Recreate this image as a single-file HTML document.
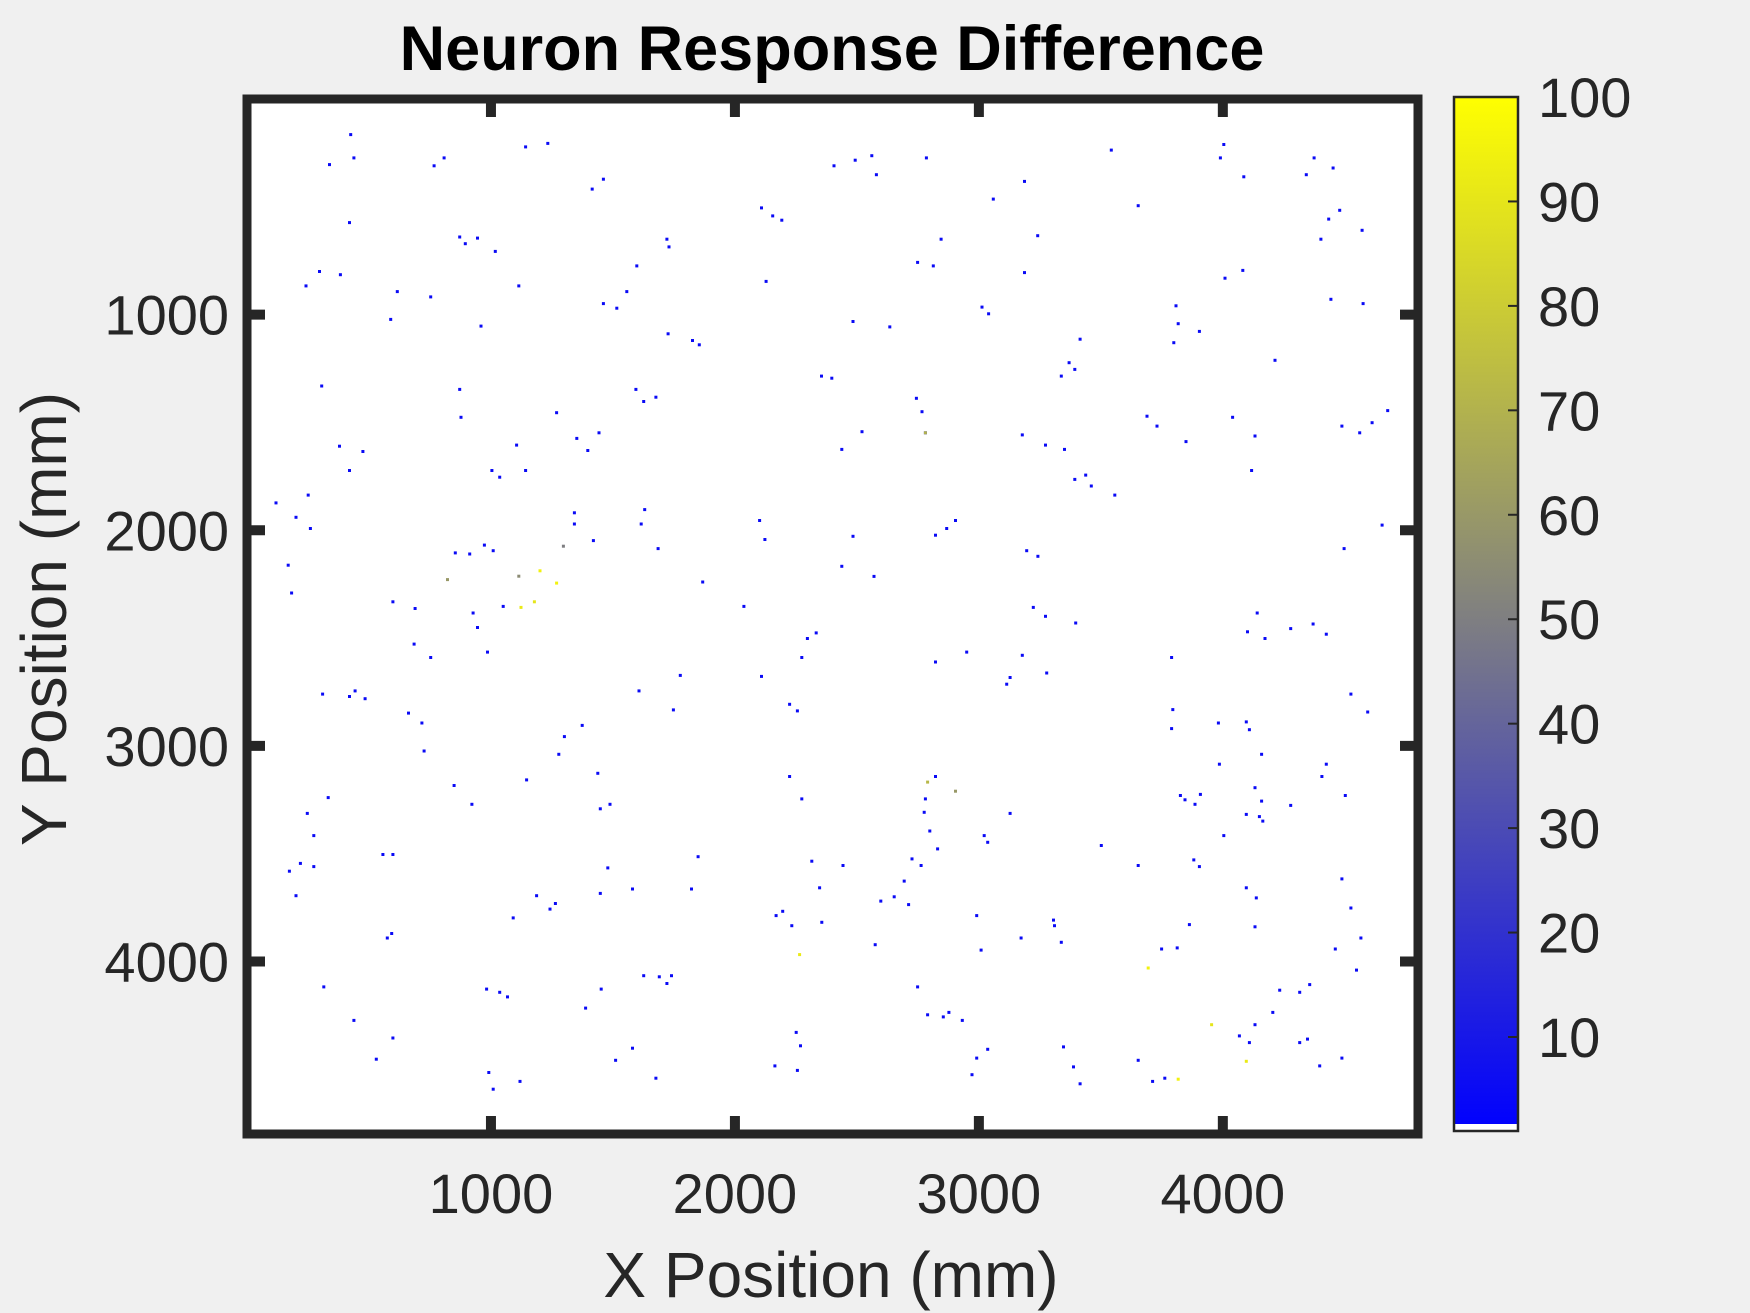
<!DOCTYPE html>
<html><head><meta charset="utf-8"><style>
html,body{margin:0;padding:0;background:#f0f0f0;}
svg{display:block;font-family:"Liberation Sans",Arial,sans-serif;}
</style></head><body>
<svg id="chart" width="1750" height="1313" viewBox="0 0 1750 1313">
<rect x="0" y="0" width="1750" height="1313" fill="#f0f0f0"/>
<g id="plot"></g>
</svg>
<script>
const xs = [425,338,438,420,1142,1233,808,767,1415,1461,2406,2493,2561,2580,2785,3059,3187,3543,4004,3990,4086,4342,4374,4452,3653,4479,4434,4402,4571,2109,2155,2192,1721,1730,1598,1557,1461,1516,1018,945,872,895,297,383,242,616,753,589,1114,959,1726,1826,1854,2128,2484,2635,2845,2749,2813,3187,3241,3013,3040,3808,3817,3904,3799,4009,4082,4443,4575,4214,3415,3370,3393,3338,2355,2397,2744,2767,2781,3178,3273,3351,3393,3438,3461,3557,3689,3730,3849,4040,4132,4118,4488,4561,4612,4676,2521,2438,1626,1676,1594,1269,1105,1142,1352,1397,1443,306,379,420,475,877,872,1004,1036,251,119,201,260,169,183,854,913,973,1009,1342,1342,1420,1630,1616,1685,1868,2101,2123,2037,2438,2484,2570,2822,2868,2904,3196,3242,3790,2822,2950,3178,3128,3114,3278,3223,3273,3397,4101,4141,4173,4278,4370,4424,4497,4653,4525,4594,3795,3790,3982,4096,4109,4159,3986,4424,4406,4502,3826,3845,3908,3886,4132,4159,4150,4096,4164,4278,4004,3881,3904,4096,4137,4132,3863,3813,3749,3653,4488,4525,4566,4461,4548,4356,4315,4233,4205,4132,4068,4109,4315,4347,4397,4488,3762,3712,3653,3415,3388,3347,3036,2991,2972,2932,2877,2854,2790,2749,3009,2991,3173,3306,3338,3310,3502,3022,3036,3128,2822,2781,2776,2799,2831,2726,2763,2694,2653,2598,2712,2575,2356,2315,2443,2347,2224,2274,2169,2196,2233,2251,2269,2164,2256,1776,1748,1607,2224,2256,2109,2297,2333,2274,1374,1301,1278,1438,1488,1448,1146,1849,1822,1479,1580,1448,1187,1242,1264,1091,1452,1388,1580,1511,1676,1626,1690,1721,1740,1119,1009,991,1068,1036,982,598,530,438,315,575,593,557,598,174,219,274,201,274,247,333,849,922,726,662,717,310,420,443,484,689,598,685,753,927,945,986,1050];
const ys = [165,304,273,573,222,206,273,310,418,372,310,284,263,351,273,464,382,237,211,273,361,351,273,320,495,516,557,650,609,505,542,562,650,686,774,893,949,970,707,645,640,671,800,815,867,893,918,1022,867,1053,1089,1120,1140,846,1032,1057,650,758,774,805,634,965,996,959,1042,1078,1130,831,795,929,949,1212,1114,1223,1254,1285,1285,1295,1388,1450,1548,1558,1605,1625,1764,1744,1795,1837,1471,1517,1589,1476,1563,1723,1517,1548,1501,1445,1543,1625,1403,1383,1347,1455,1605,1723,1574,1630,1548,1331,1610,1723,1635,1476,1347,1723,1754,1837,1873,1940,1992,2162,2291,2105,2110,2069,2095,1971,1919,2048,1904,1971,2085,2240,1955,2043,2353,2167,2028,2214,2023,1992,1955,2095,2121,2590,2611,2565,2580,2683,2714,2662,2358,2399,2430,2471,2384,2502,2456,2435,2482,2085,1976,2760,2843,2832,2920,2894,2889,2925,3039,3085,3085,3142,3230,3230,3250,3225,3271,3194,3256,3328,3318,3349,3276,3416,3529,3560,3658,3705,3839,3829,3937,3942,3555,3617,3752,3891,3942,4040,4107,4143,4133,4236,4293,4345,4376,4376,4360,4484,4448,4541,4556,4458,4567,4489,4396,4407,4448,4525,4273,4236,4257,4247,4118,3947,3787,3891,3808,3911,3834,3462,3416,3447,3313,3142,3246,3308,3395,3478,3524,3555,3627,3700,3720,3736,3922,3818,3535,3555,3658,3142,3246,3787,3767,3834,4329,4391,4484,4505,2673,2833,2745,2807,2838,2678,2502,2476,2590,2905,2957,3039,3127,3271,3292,3158,3514,3664,3566,3664,3684,3695,3757,3731,3798,4128,4216,4402,4458,4541,4066,4071,4102,4066,4556,4592,4515,4164,4143,4128,4355,4453,4273,4118,3891,3870,3504,3504,3581,3545,3560,3695,3416,3313,3240,3184,3271,3024,2848,2894,2760,2771,2745,2781,2363,2332,2528,2590,2384,2451,2565,2353];
const hotX = [3694,4096,3954,3817,2265,2790,2904,1123,1178,1201,1269,1114,1297,822,2781];
const hotY = [4030,4463,4293,4546,3968,3168,3210,2358,2332,2188,2245,2213,2074,2229,1548];
const hotV = [95,92,90,95,92,72,60,92,90,95,95,55,50,60,70];
const xTicks = [1000,2000,3000,4000];
const yTicks = [1000,2000,3000,4000];
const cbTicks = [10,20,30,40,50,60,70,80,90,100];

const NS='http://www.w3.org/2000/svg';
const svg=document.getElementById('chart');
const plot=document.getElementById('plot');
const X0=247,X1=1418,Y0=99,Y1=1134,XMAX=4800,YMAX=4800;
const sx=v=>X0+(v/XMAX)*(X1-X0);
const sy=v=>Y0+(v/YMAX)*(Y1-Y0);
const CB={x0:1454,x1:1518,y0:97,y1:1131,vmin:1,vmax:100};
const cy=v=>CB.y1-(v-CB.vmin)/(CB.vmax-CB.vmin)*(CB.y1-CB.y0);
function col(v){const t=Math.max(0,Math.min(1,(v-1)/99));const r=Math.round(t*255),b=Math.round((1-t)*255);return `rgb(${r},${r},${b})`;}
function mk(tag,attrs,parent){const e=document.createElementNS(NS,tag);for(const k in attrs)e.setAttribute(k,attrs[k]);(parent||svg).appendChild(e);return e;}

mk('rect',{x:X0,y:Y0,width:X1-X0,height:Y1-Y0,fill:'#ffffff'},plot);
for(let i=0;i<Math.min(xs.length,ys.length);i++){
  const r=mk('rect',{x:(sx(xs[i])-1.5).toFixed(1),y:(sy(ys[i])-1.5).toFixed(1),width:3,height:3,fill:col(5)},plot);
  
  
}
for(let i=0;i<hotX.length;i++){
  const r=mk('rect',{x:(sx(hotX[i])-1.5).toFixed(1),y:(sy(hotY[i])-1.5).toFixed(1),width:3,height:3,fill:col(hotV[i])},plot);
  
  
}
const fr=mk('rect',{x:X0,y:Y0,width:X1-X0,height:Y1-Y0,fill:'none',stroke:'#262626','stroke-width':9});


xTicks.forEach(v=>{
  const x=sx(v);
  mk('line',{x1:x,y1:Y1,x2:x,y2:Y1-18,stroke:'#262626','stroke-width':10});
  mk('line',{x1:x,y1:Y0,x2:x,y2:Y0+18,stroke:'#262626','stroke-width':10});
  const t=mk('text',{x:x,y:1213,'text-anchor':'middle','font-size':56,fill:'#262626'});
  t.textContent=v;
  
  
});
yTicks.forEach(v=>{
  const y=sy(v);
  mk('line',{x1:X0,y1:y,x2:X0+18,y2:y,stroke:'#262626','stroke-width':10});
  mk('line',{x1:X1,y1:y,x2:X1-18,y2:y,stroke:'#262626','stroke-width':10});
  const t=mk('text',{x:229,y:y+20,'text-anchor':'end','font-size':56,fill:'#262626'});
  t.textContent=v;
  
  
});
const defs=mk('defs',{});
const g=mk('linearGradient',{id:'cbg',x1:0,y1:1,x2:0,y2:0},defs);
mk('stop',{offset:'0',  'stop-color':col(1)},g);
mk('stop',{offset:'0.5','stop-color':col(50.5)},g);
mk('stop',{offset:'1',  'stop-color':col(100)},g);
const cbr=mk('rect',{x:CB.x0,y:CB.y0,width:CB.x1-CB.x0,height:CB.y1-CB.y0,fill:'url(#cbg)'});


mk('rect',{x:CB.x0,y:CB.y1-7,width:CB.x1-CB.x0,height:7,fill:'#ffffff'});
mk('rect',{x:CB.x0,y:CB.y0,width:CB.x1-CB.x0,height:CB.y1-CB.y0,fill:'none',stroke:'#262626','stroke-width':2.5});
cbTicks.forEach(v=>{
  const y=cy(v);
  if(v<100) mk('line',{x1:CB.x1,y1:y,x2:CB.x1-10,y2:y,stroke:'#262626','stroke-width':2});
  const t=mk('text',{x:1538,y:y+20,'text-anchor':'start','font-size':56,fill:'#262626'});
  t.textContent=v;
  
  
});
const tt=mk('text',{x:832,y:70,'text-anchor':'middle','font-size':63,'font-weight':'bold',fill:'#000'});
tt.textContent='Neuron Response Difference';


const xl=mk('text',{x:831,y:1297,'text-anchor':'middle','font-size':64,fill:'#262626'});
xl.textContent='X Position (mm)';


const yl=mk('text',{x:0,y:0,'text-anchor':'middle','font-size':64,fill:'#262626',transform:'translate(66,619) rotate(-90)'});
yl.textContent='Y Position (mm)';


</script>
</body></html>
